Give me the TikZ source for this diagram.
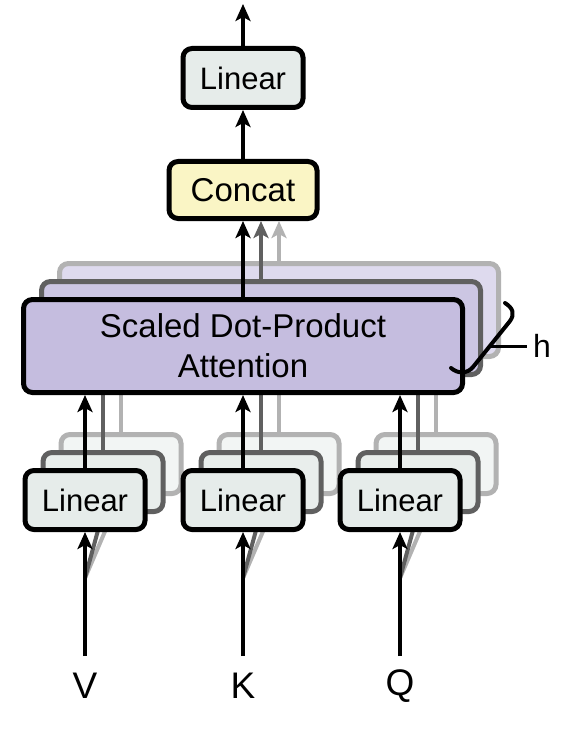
\documentclass[tikz,border=0pt]{standalone}
\usepackage{fontspec}
\setmainfont{Liberation Sans}
\usetikzlibrary{arrows.meta,calc}
\definecolor{linfill}{HTML}{E6ECEA}
\definecolor{linfillB}{HTML}{E9EEEC}
\definecolor{linfillC}{HTML}{F2F5F4}
\definecolor{catfill}{HTML}{FAF5C5}
\definecolor{sdpafill}{HTML}{C5BDDF}
\definecolor{sdpafillB}{HTML}{CCC6E3}
\definecolor{sdpafillC}{HTML}{DEDAEE}
\definecolor{darkg}{HTML}{606060}
\definecolor{lightg}{HTML}{B2B2B2}
\tikzset{
  boxbase/.style={line width=5pt, rounded corners=9pt, inner sep=0pt, align=center},
  linbox/.style={boxbase, draw=black, fill=linfill, minimum width=120pt, minimum height=59pt,
    font=\fontsize{31}{31}\selectfont},
  linboxB/.style={boxbase, draw=darkg, fill=linfillB, minimum width=120pt, minimum height=59pt},
  linboxC/.style={boxbase, draw=lightg, fill=linfillC, minimum width=120pt, minimum height=59pt},
  catbox/.style={boxbase, draw=black, fill=catfill, minimum width=148pt, minimum height=57pt,
    font=\fontsize{33}{33}\selectfont},
  sdpabox/.style={boxbase, draw=black, fill=sdpafill, minimum width=439pt, minimum height=93pt,
    font=\fontsize{33}{40}\selectfont},
  sdpaboxB/.style={boxbase, draw=darkg, fill=sdpafillB, minimum width=439pt, minimum height=93pt},
  sdpaboxC/.style={boxbase, draw=lightg, fill=sdpafillC, minimum width=439pt, minimum height=93pt},
  tip/.tip={Stealth[length=17pt,width=15pt,inset=4pt]},
  arr/.style={line width=4pt, draw=black, -tip},
  arrB/.style={line width=4pt, draw=darkg, -tip},
  arrC/.style={line width=4pt, draw=lightg, -tip},
  lineB/.style={line width=4pt, draw=darkg},
  lineC/.style={line width=4pt, draw=lightg},
  lbl/.style={inner sep=0pt, font=\fontsize{37}{37}\selectfont},
}
\begin{document}
\begin{tikzpicture}[x=1pt,y=-1pt]
\useasboundingbox[fill=white] (0,0) rectangle (576,746);

% ---- input side: three Linear stacks ----
\foreach \n/\x in {V/85,K/243,Q/400}{
  \coordinate (in\n) at (\x,656);
  \coordinate (split\n) at (\x,578);
  \coordinate (end\n3) at ({\x+36},494);
  \coordinate (end\n2) at ({\x+18},512);
  \draw[lineC] (split\n) -- (end\n3);
  \draw[lineB] (split\n) -- (end\n2);
  \node[linboxC] (lin\n3) at ({\x+36},464) {};
  \draw[lineC] (lin\n3.north) -- ({\x+36},395);
  \node[linboxB] (lin\n2) at ({\x+18},482) {};
  \draw[lineB] (lin\n2.north) -- ({\x+18},395);
  \node[linbox] (lin\n) at (\x,500) {Linear};
  \draw[arr] (in\n) -- (lin\n.south);
  \node[lbl] (lab\n) at (\x,686) {\n};
}

% ---- output side ----
\node[catbox] (concat) at (243,190) {Concat};
\node[linbox] (linOut) at (243,78) {Linear};
\coordinate (out) at (243,4);

\node[sdpaboxC] (sdpa3) at (279,310) {};
\draw[arrC] (sdpa3.north) -- ([xshift=36pt]concat.south);
\node[sdpaboxB] (sdpa2) at (261,328) {};
\draw[arrB] (sdpa2.north) -- ([xshift=18pt]concat.south);
\node[sdpabox] (sdpa) at (243,346) {Scaled Dot-Product\\Attention};
\draw[arr] (sdpa.north) -- (concat.south);

\foreach \n in {V,K,Q}{
  \draw[arr] (lin\n.north) -- (lin\n.north |- sdpa.south);
}

\draw[arr] (concat.north) -- (linOut.south);
\draw[arr] (linOut.north) -- (out);

% ---- brace and h ----
\draw[line width=4pt, line cap=round]
  (505,303) .. controls (513,308) and (515,314) .. (510,321)
  -- (473,367) .. controls (467,374) and (458,374) .. (451,368);
\coordinate (bmid) at (491,346);
\node[inner sep=0pt, font=\fontsize{32}{32}\selectfont] (hlab) at (542,346) {h};
\draw[line width=3pt] (bmid) -- ([xshift=-6pt]hlab.west);
\end{tikzpicture}
\end{document}
